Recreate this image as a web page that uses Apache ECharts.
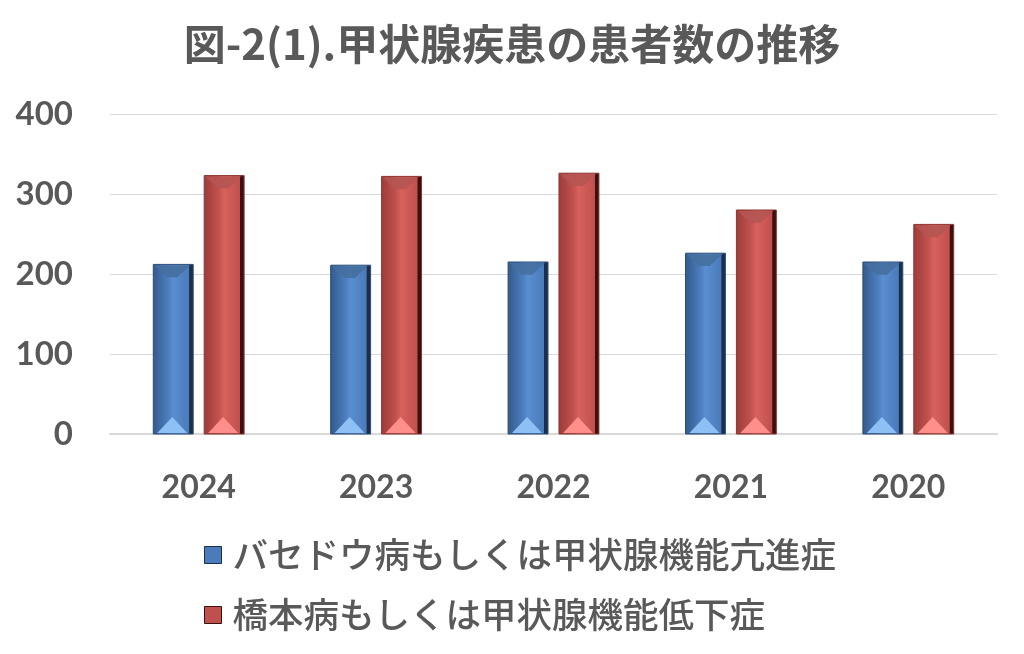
<!DOCTYPE html>
<html><head><meta charset="utf-8">
<script src="https://cdn.jsdelivr.net/npm/echarts@6/dist/echarts.min.js"></script>
<style>html,body{margin:0;padding:0;background:#fff}#c{width:1024px;height:654px}</style>
</head><body><div id="c"></div>
<script>
var categories = ['2024', '2023', '2022', '2021', '2020'];
var seriesNames = ['バセドウ病もしくは甲状腺機能亢進症', '橋本病もしくは甲状腺機能低下症'];
var graves = [212, 211, 215, 226, 215];
var hashimoto = [323, 322, 326, 280, 262];
var yTicks = [0, 100, 200, 300, 400];

var palettes = [
  {dark:'#34598a', mid:'#4a7bbb', light:'#5a8ed0', edge:'#1c2f4a', top:'#456f9f', bottom:'#8fc0f5', border:'#2c4d78'},
  {dark:'#9c3c39', mid:'#c0504d', light:'#d8615d', edge:'#3a1010', top:'#b55552', bottom:'#ff8f8a', border:'#8a3431'}
];

function makeRender(sIdx) {
  return function (params, api) {
    var idx = api.value(0), val = api.value(1);
    var band = api.size([1, 0])[0];
    var w = band * 0.225, gap = band * 0.062;
    var c = api.coord([idx, val]);
    var b0 = api.coord([idx, 0]);
    var x0 = sIdx === 0 ? c[0] - gap / 2 - w : c[0] + gap / 2;
    var x1 = x0 + w, yt = c[1], yb = b0[1];
    var p = palettes[sIdx];
    var bv = w * 0.32;
    var grad = new echarts.graphic.LinearGradient(0, 0, 1, 0, [
      {offset: 0, color: p.dark}, {offset: 0.35, color: p.mid},
      {offset: 0.5, color: p.light}, {offset: 0.88, color: p.mid},
      {offset: 0.9, color: p.edge}, {offset: 1, color: p.edge}]);
    var triH = Math.min(16, (yb - yt) / 2);
    return {type: 'group', children: [
      {type: 'rect', shape: {x: x0, y: yt, width: w, height: yb - yt},
        style: {fill: grad, stroke: p.border, lineWidth: 1}},
      {type: 'polygon', shape: {points: [[x0 + 1, yt + 1], [x1 - 3, yt + 1], [x1 - 3 - bv, yt + bv], [x0 + 1 + bv, yt + bv]]},
        style: {fill: p.top, opacity: 0.9}},
      {type: 'polygon', shape: {points: [[x0 + 4, yb - 1], [x1 - 6, yb - 1], [(x0 + x1) / 2 - 1, yb - 1 - triH]]},
        style: {fill: p.bottom}}
    ]};
  };
}

var option = {
  animation: false,
  backgroundColor: '#fff',
  title: {text: '図-2(1).甲状腺疾患の患者数の推移', left: 'center', top: 18,
    textStyle: {fontFamily: 'Noto Sans CJK JP', fontWeight: 'bold', fontSize: 42, color: '#595959'}},
  grid: {left: 110, right: 27, top: 114, bottom: 220},
  legend: {orient: 'vertical', left: 199, top: 530, itemWidth: 17, itemHeight: 17, itemGap: 20,
    data: [
      {name: seriesNames[0], icon: 'rect', itemStyle: {color: '#4a7bbb', borderColor: '#1c2f4a', borderWidth: 1}},
      {name: seriesNames[1], icon: 'rect', itemStyle: {color: '#c0504d', borderColor: '#3a1010', borderWidth: 1}}
    ],
    textStyle: {fontFamily: 'Noto Sans CJK JP', fontSize: 35.5, color: '#595959', fontWeight: 500, lineHeight: 40, padding: [0, 0, 0, 6]}},
  xAxis: {type: 'category', data: categories,
    axisLine: {lineStyle: {color: '#d9d9d9', width: 2}}, axisTick: {show: false},
    axisLabel: {margin: 38, fontFamily: 'Lato', fontWeight: 'bold', fontSize: 32, color: '#595959'}},
  yAxis: {type: 'value', min: yTicks[0], max: yTicks[yTicks.length - 1], interval: 100,
    axisLine: {show: false}, axisTick: {show: false},
    splitLine: {lineStyle: {color: '#d9d9d9', width: 1}},
    axisLabel: {margin: 37, fontFamily: 'Lato', fontWeight: 'bold', fontSize: 33, color: '#595959'}},
  series: [
    {name: seriesNames[0], type: 'custom', renderItem: makeRender(0), itemStyle: {color: '#4a7bbb'},
      encode: {x: 0, y: 1}, data: graves.map(function (v, i) { return [i, v]; })},
    {name: seriesNames[1], type: 'custom', renderItem: makeRender(1), itemStyle: {color: '#c0504d'},
      encode: {x: 0, y: 1}, data: hashimoto.map(function (v, i) { return [i, v]; })}
  ]
};
echarts.init(document.getElementById('c')).setOption(option);
</script></body></html>
